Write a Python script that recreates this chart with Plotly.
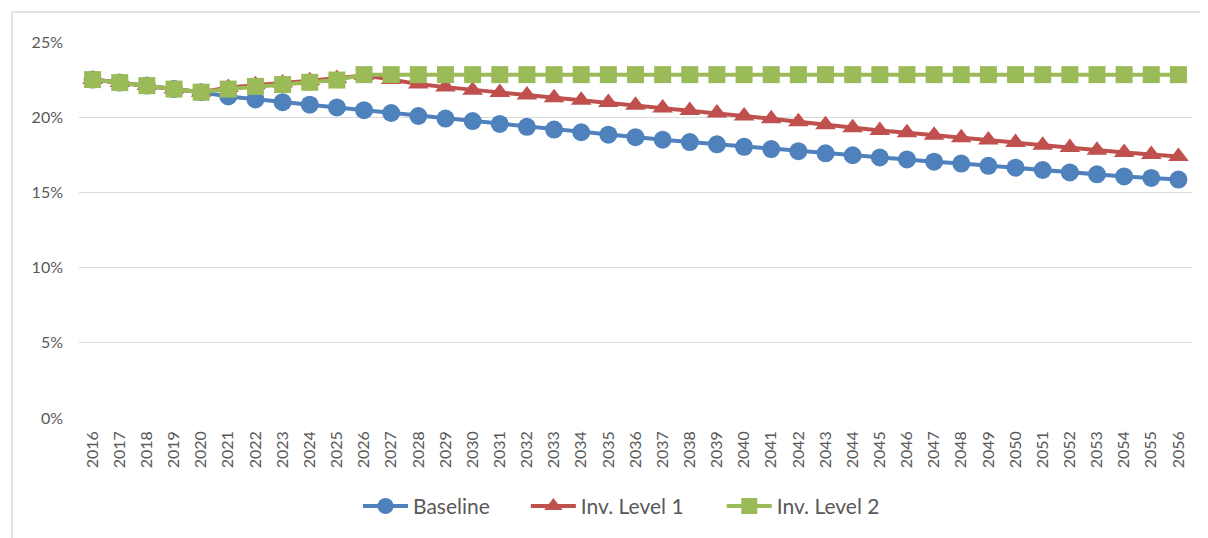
import plotly.graph_objects as go

years = [str(y) for y in range(2016, 2057)]

baseline = [22.5, 22.3, 22.1, 21.87, 21.66, 21.38, 21.18, 21.0, 20.83, 20.65,
            20.47, 20.28, 20.08, 19.91, 19.74, 19.55, 19.36, 19.18, 19.0, 18.84,
            18.67, 18.5, 18.35, 18.2, 18.03, 17.88, 17.74, 17.6, 17.47, 17.32,
            17.19, 17.04, 16.92, 16.77, 16.64, 16.49, 16.33, 16.2, 16.06, 15.96,
            15.85]

inv_level_1 = [22.5, 22.3, 22.1, 21.87, 21.66, 21.97, 22.15, 22.28, 22.43, 22.58,
               22.78, 22.5, 22.2, 22.0, 21.8, 21.65, 21.47, 21.3, 21.13, 20.98,
               20.8, 20.61, 20.44, 20.28, 20.08, 19.9, 19.7, 19.5, 19.3, 19.12,
               18.97, 18.8, 18.63, 18.48, 18.31, 18.14, 17.98, 17.8, 17.65, 17.52,
               17.38]

inv_level_2 = [22.5, 22.3, 22.1, 21.87, 21.66, 21.87, 22.05, 22.17, 22.32, 22.47,
               22.83, 22.83, 22.83, 22.83, 22.83, 22.83, 22.83, 22.83, 22.83, 22.83,
               22.83, 22.83, 22.83, 22.83, 22.83, 22.83, 22.83, 22.83, 22.83, 22.83,
               22.83, 22.83, 22.83, 22.83, 22.83, 22.83, 22.83, 22.83, 22.83, 22.83,
               22.83]

y_ticks = [0, 5, 10, 15, 20, 25]
y_tick_labels = ["0%", "5%", "10%", "15%", "20%", "25%"]

series = [
    ("Baseline", baseline, "#4F81BD", "circle", 18, "legend", 0.2507),
    ("Inv. Level 1", inv_level_1, "#C0504D", "triangle-up", 18, "legend2", 0.4015),
    ("Inv. Level 2", inv_level_2, "#9BBB59", "square", 17, "legend3", 0.5775),
]

font_family = "Lato, 'Open Sans', sans-serif"
tick_color = "#595959"

fig = go.Figure()
legends = {}
for name, vals, color, sym, size, leg, lx in series:
    fig.add_trace(go.Scatter(
        x=years, y=vals, name=name, mode="lines+markers", legend=leg,
        line=dict(color=color, width=4),
        marker=dict(symbol=sym, size=size, color=color, line=dict(width=0)),
    ))
    legends[leg] = dict(orientation="h", x=lx, xanchor="left", y=-0.235,
                        yanchor="middle", bgcolor="rgba(0,0,0,0)", itemwidth=45,
                        font=dict(size=21, color=tick_color, family=font_family))

fig.update_layout(
    width=1200, height=530,
    margin=dict(l=71, r=16, t=34, b=119.5, autoexpand=False),
    paper_bgcolor="white", plot_bgcolor="white",
    font=dict(family=font_family, color=tick_color, size=16),
    showlegend=True,
    xaxis=dict(type="category", range=[-0.5, 40.5], tickangle=-90, showgrid=False,
               zeroline=False, showline=False, ticks="",
               tickfont=dict(size=16, color=tick_color), ticklabelstandoff=9),
    yaxis=dict(range=[0, 25], tickvals=y_ticks, ticktext=y_tick_labels,
               showgrid=True, gridcolor="#D9D9D9", gridwidth=1.4,
               zeroline=False, showline=False, ticks="",
               tickfont=dict(size=16, color=tick_color), ticklabelstandoff=15),
    shapes=[
        dict(type="line", xref="paper", yref="paper", x0=-0.0602, x1=-0.0602,
             y0=1.0797, y1=-0.33, line=dict(color="#D9D9D9", width=1.5)),
        dict(type="line", xref="paper", yref="paper", x0=-0.0602, x1=1.03,
             y0=1.0797, y1=1.0797, line=dict(color="#D9D9D9", width=1.5)),
    ],
    **legends,
)

fig.write_html("out.html")
